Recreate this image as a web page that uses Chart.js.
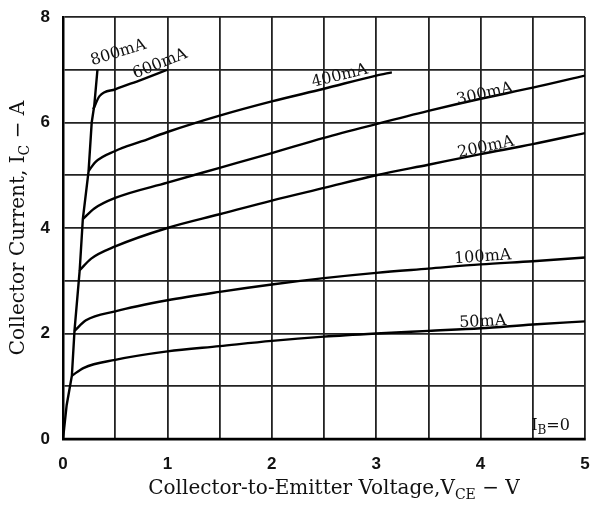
<!DOCTYPE html>
<html>
<head>
<meta charset="utf-8">
<script src="https://cdn.jsdelivr.net/npm/chart.js@4.4.0/dist/chart.umd.min.js"></script>
<style>
  body { margin: 0; background: #fff; }
  #wrap { width: 591px; height: 507px; }
</style>
</head>
<body>
<div id="wrap"><canvas id="myChart" width="591" height="507"></canvas></div>
<script>
// collector characteristics, Vce (V) vs Ic (A), one curve per base current
const xTicks = [0, 1, 2, 3, 4, 5];
const yTicks = [0, 2, 4, 6, 8];

// steep saturation line (800mA)
const vce800 = [0, 0.035, 0.085, 0.11, 0.16, 0.19, 0.245, 0.275, 0.3, 0.33];
const ic800  = [0, 0.64, 1.2, 2.05, 3.2, 4.17, 5.08, 6.0, 6.33, 7.0];

const vce600 = [0.29, 0.35, 0.5, 0.75, 1.0];
const ic600  = [6.25, 6.5, 6.63, 6.81, 7.0];

const vce400 = [0.245, 0.31, 0.5, 0.75, 1.0, 1.5, 2.0, 2.5, 3.0, 3.15];
const ic400  = [5.08, 5.25, 5.46, 5.64, 5.82, 6.13, 6.4, 6.64, 6.89, 6.95];

const vce300 = [0.19, 0.3, 0.5, 1.0, 1.5, 2.0, 2.5, 3.0, 3.5, 4.0, 4.5, 5.0];
const ic300  = [4.17, 4.37, 4.57, 4.86, 5.14, 5.42, 5.71, 5.97, 6.22, 6.45, 6.66, 6.89];

const vce200 = [0.16, 0.27, 0.5, 1.0, 1.5, 2.0, 2.5, 3.0, 3.5, 4.0, 4.5, 5.0];
const ic200  = [3.2, 3.42, 3.65, 4.0, 4.26, 4.52, 4.76, 5.0, 5.2, 5.4, 5.59, 5.8];

const vce100 = [0.11, 0.22, 0.5, 1.0, 1.5, 2.0, 2.5, 3.0, 3.5, 4.0, 4.5, 5.0];
const ic100  = [2.05, 2.25, 2.42, 2.63, 2.79, 2.93, 3.05, 3.15, 3.23, 3.31, 3.37, 3.44];

const vce50 = [0.085, 0.2, 0.5, 1.0, 1.5, 2.0, 2.5, 3.0, 3.5, 4.0, 4.5, 5.0];
const ic50  = [1.2, 1.35, 1.5, 1.66, 1.76, 1.86, 1.94, 2.0, 2.05, 2.1, 2.17, 2.23];

const vce0 = [0, 5];
const ic0  = [0, 0];

// curve labels: text, anchor (data units), angle in degrees
const curveNotes = [
  { t: '800mA', x: 0.53, y: 7.32, a: -17 },
  { t: '600mA', x: 0.93, y: 7.11, a: -22 },
  { t: '400mA', x: 2.65, y: 6.88, a: -14 },
  { t: '300mA', x: 4.04, y: 6.54, a: -13 },
  { t: '200mA', x: 4.05, y: 5.53, a: -12 },
  { t: '100mA', x: 4.02, y: 3.45, a: -4 },
  { t: '50mA',  x: 4.02, y: 2.22, a: -3 }
];

function pts(xs, ys) { return xs.map((v, i) => ({ x: v, y: ys[i] })); }

function curve(xs, ys, smooth) {
  return {
    data: pts(xs, ys),
    borderColor: '#000',
    borderWidth: 2.4,
    pointRadius: 0,
    fill: false,
    tension: smooth ? 0.4 : 0,
    cubicInterpolationMode: smooth ? 'monotone' : 'default'
  };
}

const SERIF = '"DejaVu Serif", "Liberation Serif", serif';

// draws a string made of pieces, some of them subscripts, centred on (x, y)
function drawRich(ctx, parts, x, y, size) {
  const big = size + 'px ' + SERIF;
  const small = Math.round(size * 0.72) + 'px ' + SERIF;
  let w = 0;
  parts.forEach(p => { ctx.font = p.sub ? small : big; w += ctx.measureText(p.t).width; });
  let cx = x - w / 2;
  ctx.textAlign = 'left';
  ctx.textBaseline = 'middle';
  parts.forEach(p => {
    ctx.font = p.sub ? small : big;
    ctx.fillText(p.t, cx, p.sub ? y + size * 0.3 : y);
    cx += ctx.measureText(p.t).width;
  });
}

const textPlugin = {
  id: 'textPlugin',
  afterDraw(chart) {
    const ctx = chart.ctx;
    const xs = chart.scales.x, ys = chart.scales.y;
    const area = chart.chartArea;
    ctx.save();
    ctx.fillStyle = '#111';

    // axis titles
    drawRich(ctx, [{ t: 'Collector-to-Emitter Voltage,V' }, { t: 'CE', sub: true }, { t: ' \u2212 V' }],
      334, 489, 20);
    ctx.save();
    ctx.translate(19, (area.top + area.bottom) / 2);
    ctx.rotate(-Math.PI / 2);
    drawRich(ctx, [{ t: 'Collector Current, I' }, { t: 'C', sub: true }, { t: ' \u2212 A' }], 0, 0, 20);
    ctx.restore();

    // curve labels
    curveNotes.forEach(n => {
      ctx.save();
      ctx.translate(xs.getPixelForValue(n.x), ys.getPixelForValue(n.y));
      ctx.rotate(n.a * Math.PI / 180);
      drawRich(ctx, [{ t: n.t }], 0, 0, 16);
      ctx.restore();
    });
    drawRich(ctx, [{ t: 'I' }, { t: 'B', sub: true }, { t: '=0' }],
      xs.getPixelForValue(4.67), ys.getPixelForValue(0.24), 16);
    ctx.restore();
  }
};

const ctx = document.getElementById('myChart').getContext('2d');
var myChart = new Chart(ctx, {
  type: 'line',
  data: {
    datasets: [
      curve(vce800, ic800, false),
      curve(vce600, ic600, true),
      curve(vce400, ic400, true),
      curve(vce300, ic300, true),
      curve(vce200, ic200, true),
      curve(vce100, ic100, true),
      curve(vce50, ic50, true),
      curve(vce0, ic0, false)
    ]
  },
  options: {
    responsive: false,
    animation: false,
    devicePixelRatio: 1,
    layout: { padding: { left: 30, right: 6, top: 17, bottom: 0 } },
    plugins: { legend: { display: false }, tooltip: { enabled: false } },
    scales: {
      x: {
        type: 'linear', min: 0, max: 5,
        afterFit: s => { s.height = 68; s.paddingLeft = 0; s.paddingRight = 0; },
        grid: { color: '#222', lineWidth: 1.8, drawTicks: false },
        border: { color: '#000', width: 2.5 },
        ticks: {
          stepSize: 0.5, padding: 15, color: '#111', maxRotation: 0, autoSkip: false,
          font: { family: '"Liberation Sans", Arial, sans-serif', size: 17, weight: 'bold' },
          callback: v => (xTicks.includes(v) ? String(v) : '')
        }
      },
      y: {
        min: 0, max: 8,
        afterFit: s => { s.width = 33; s.paddingTop = 0; s.paddingBottom = 0; },
        grid: { color: '#222', lineWidth: 1.8, drawTicks: false },
        border: { color: '#000', width: 2.5 },
        ticks: {
          stepSize: 1, padding: 13, color: '#111', autoSkip: false,
          font: { family: '"Liberation Sans", Arial, sans-serif', size: 17, weight: 'bold' },
          callback: v => (yTicks.includes(v) ? String(v) : '')
        }
      }
    }
  },
  plugins: [textPlugin]
});
</script>
</body>
</html>
